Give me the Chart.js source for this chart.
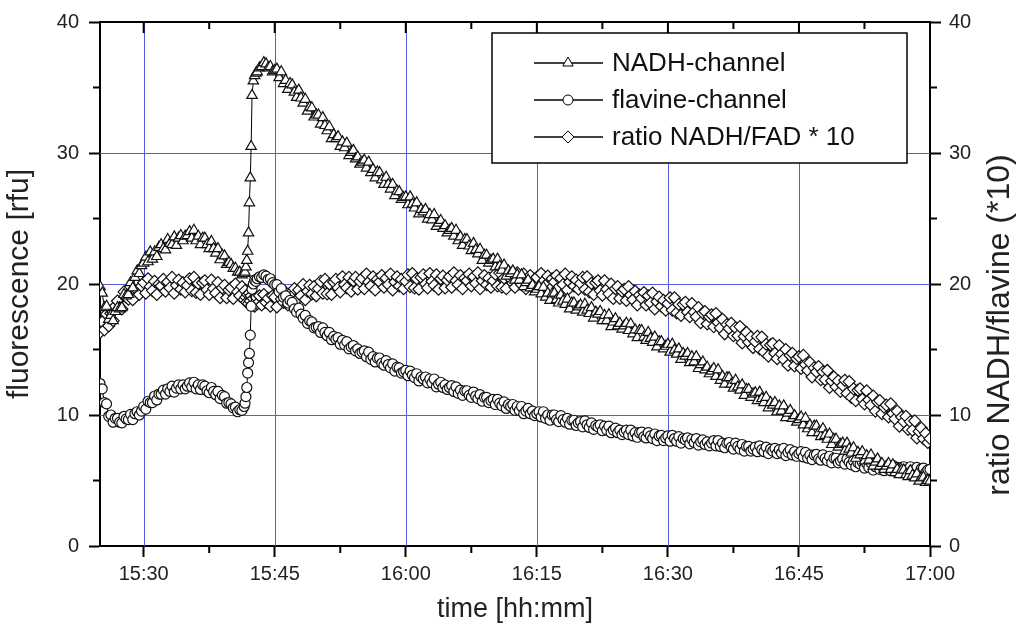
<!DOCTYPE html>
<html>
<head>
<meta charset="utf-8">
<script src="https://cdn.jsdelivr.net/npm/chart.js@4.4.1/dist/chart.umd.min.js"></script>
<style>
  html, body { margin: 0; padding: 0; background: #fff; }
  #wrap { width: 1016px; height: 628px; }
</style>
</head>
<body>
<div id="wrap"><canvas id="myChart"></canvas></div>
<script>
// time in minutes after 15:00, one row per 5 minutes
const times = [
  25, 25.25, 25.5, 25.75, 26, 26.25, 26.5, 26.75, 27, 27.25, 27.5, 27.75, 28, 28.25, 28.5, 28.75, 29, 29.25, 29.5, 29.75,
  30, 30.25, 30.5, 30.75, 31, 31.25, 31.5, 31.75, 32, 32.25, 32.5, 32.75, 33, 33.25, 33.5, 33.75, 34, 34.25, 34.5, 34.75,
  35, 35.25, 35.5, 35.75, 36, 36.25, 36.5, 36.75, 37, 37.25, 37.5, 37.75, 38, 38.25, 38.5, 38.75, 39, 39.25, 39.5, 39.75,
  40, 40.25, 40.5, 40.75, 41, 41.25, 41.5,
  41.6, 41.7, 41.8, 41.9, 42, 42.1, 42.2, 42.3, 42.4, 42.55, 42.7, 42.85,
  43, 43.25, 43.5, 43.75, 44, 44.25, 44.5, 44.75,
  45, 45.25, 45.5, 45.75, 46, 46.25, 46.5, 46.75, 47, 47.25, 47.5, 47.75, 48, 48.25, 48.5, 48.75, 49, 49.25, 49.5, 49.75,
  50, 50.25, 50.5, 50.75, 51, 51.25, 51.5, 51.75, 52, 52.25, 52.5, 52.75, 53, 53.25, 53.5, 53.75, 54, 54.25, 54.5, 54.75,
  55, 55.25, 55.5, 55.75, 56, 56.25, 56.5, 56.75, 57, 57.25, 57.5, 57.75, 58, 58.25, 58.5, 58.75, 59, 59.25, 59.5, 59.75,
  60, 60.25, 60.5, 60.75, 61, 61.25, 61.5, 61.75, 62, 62.25, 62.5, 62.75, 63, 63.25, 63.5, 63.75, 64, 64.25, 64.5, 64.75,
  65, 65.25, 65.5, 65.75, 66, 66.25, 66.5, 66.75, 67, 67.25, 67.5, 67.75, 68, 68.25, 68.5, 68.75, 69, 69.25, 69.5, 69.75,
  70, 70.25, 70.5, 70.75, 71, 71.25, 71.5, 71.75, 72, 72.25, 72.5, 72.75, 73, 73.25, 73.5, 73.75, 74, 74.25, 74.5, 74.75,
  75, 75.25, 75.5, 75.75, 76, 76.25, 76.5, 76.75, 77, 77.25, 77.5, 77.75, 78, 78.25, 78.5, 78.75, 79, 79.25, 79.5, 79.75,
  80, 80.25, 80.5, 80.75, 81, 81.25, 81.5, 81.75, 82, 82.25, 82.5, 82.75, 83, 83.25, 83.5, 83.75, 84, 84.25, 84.5, 84.75,
  85, 85.25, 85.5, 85.75, 86, 86.25, 86.5, 86.75, 87, 87.25, 87.5, 87.75, 88, 88.25, 88.5, 88.75, 89, 89.25, 89.5, 89.75,
  90, 90.25, 90.5, 90.75, 91, 91.25, 91.5, 91.75, 92, 92.25, 92.5, 92.75, 93, 93.25, 93.5, 93.75, 94, 94.25, 94.5, 94.75,
  95, 95.25, 95.5, 95.75, 96, 96.25, 96.5, 96.75, 97, 97.25, 97.5, 97.75, 98, 98.25, 98.5, 98.75, 99, 99.25, 99.5, 99.75,
  100, 100.25, 100.5, 100.75, 101, 101.25, 101.5, 101.75, 102, 102.25, 102.5, 102.75, 103, 103.25, 103.5, 103.75, 104, 104.25, 104.5, 104.75,
  105, 105.25, 105.5, 105.75, 106, 106.25, 106.5, 106.75, 107, 107.25, 107.5, 107.75, 108, 108.25, 108.5, 108.75, 109, 109.25, 109.5, 109.75,
  110, 110.25, 110.5, 110.75, 111, 111.25, 111.5, 111.75, 112, 112.25, 112.5, 112.75, 113, 113.25, 113.5, 113.75, 114, 114.25, 114.5, 114.75,
  115, 115.25, 115.5, 115.75, 116, 116.25, 116.5, 116.75, 117, 117.25, 117.5, 117.75, 118, 118.25, 118.5, 118.75, 119, 119.25, 119.5, 119.75,
  120
];

const nadh = [
  19.8, 19.3, 18.2, 18.3, 17.3, 17.6, 17.2, 17.9, 18.2, 18.1, 18.2, 19.2, 19.1, 19.2, 20.1, 19.7, 20.5, 21.0, 20.8, 21.4,
  21.6, 22.05, 21.7, 22.45, 21.9, 22.45, 22.1, 22.8, 23.0, 22.7, 22.6, 23.4, 23.1, 23.0, 23.6, 22.95, 23.5, 23.7, 23.3, 23.65,
  23.7, 24.0, 23.5, 24.1, 23.3, 23.65, 23.0, 23.5, 23.5, 23.0, 22.7, 23.25, 22.7, 22.35, 22.7, 21.85, 22.2, 22.15, 21.5, 21.65,
  21.5, 21.2, 21.2, 20.9, 20.9, 20.7, 20.8,
  20.9, 21.3, 21.8, 22.5, 23.9, 26.2, 28.1, 30.5, 34.4, 35.5, 35.9, 36.1,
  36.2, 36.5, 36.6, 36.9, 36.8, 36.5, 36.6, 36.2,
  36.3, 36.4, 35.75, 36.2, 35.3, 35.55, 34.85, 35.3, 35.2, 34.65, 34.25, 34.8, 34.2, 33.8, 34.1, 33.2, 33.5, 33.45, 32.75, 32.9,
  32.9, 32.2, 32.7, 32.1, 31.7, 32.0, 31.1, 31.4, 31.1, 31.25, 30.5, 30.85, 30.4, 30.75, 29.8, 30.05, 30.2, 29.55, 29.7, 29.15,
  29.3, 29.45, 28.85, 29.3, 28.5, 28.75, 28.1, 28.55, 28.5, 27.95, 27.6, 28.15, 27.6, 27.25, 27.6, 26.75, 27.1, 27.05, 26.45, 26.6,
  26.65, 26.05, 26.65, 26.1, 25.8, 26.2, 25.35, 25.7, 25.5, 25.7, 24.95, 25.3, 24.9, 25.3, 24.4, 24.65, 24.85, 24.25, 24.45, 23.9,
  24.1, 24.25, 23.65, 24.1, 23.3, 23.6, 22.95, 23.4, 23.4, 22.9, 22.55, 23.1, 22.6, 22.3, 22.65, 21.8, 22.2, 22.2, 21.6, 21.8,
  21.9, 21.3, 21.9, 21.35, 21.05, 21.45, 20.6, 21.0, 20.8, 21.0, 20.3, 20.7, 20.3, 20.7, 19.8, 20.1, 20.3, 19.7, 19.9, 19.4,
  19.6, 19.8, 19.25, 19.75, 19.0, 19.3, 18.75, 19.25, 19.3, 18.8, 18.55, 19.15, 18.7, 18.45, 18.85, 18.1, 18.55, 18.55, 18.0, 18.25,
  18.4, 17.85, 18.45, 18.0, 17.75, 18.2, 17.4, 17.85, 17.7, 17.9, 17.2, 17.6, 17.2, 17.65, 16.75, 17.1, 17.35, 16.8, 17.0, 16.55,
  16.8, 17.0, 16.45, 16.95, 16.2, 16.5, 15.9, 16.45, 16.45, 15.95, 15.7, 16.3, 15.85, 15.55, 15.95, 15.2, 15.6, 15.6, 15.05, 15.25,
  15.4, 14.8, 15.4, 14.95, 14.65, 15.05, 14.25, 14.7, 14.5, 14.7, 14.0, 14.45, 14.05, 14.45, 13.55, 13.85, 14.05, 13.45, 13.65, 13.15,
  13.35, 13.55, 12.95, 13.45, 12.65, 12.95, 12.35, 12.85, 12.85, 12.35, 12.05, 12.65, 12.15, 11.9, 12.3, 11.5, 11.95, 11.95, 11.35, 11.6,
  11.7, 11.1, 11.75, 11.25, 10.95, 11.35, 10.55, 10.95, 10.75, 10.95, 10.25, 10.7, 10.3, 10.7, 9.8, 10.15, 10.35, 9.75, 9.95, 9.45,
  9.65, 9.85, 9.25, 9.75, 8.95, 9.25, 8.65, 9.15, 9.15, 8.65, 8.35, 8.95, 8.45, 8.15, 8.55, 7.75, 8.15, 8.15, 7.55, 7.75,
  7.85, 7.25, 7.85, 7.4, 7.1, 7.5, 6.7, 7.15, 6.95, 7.2, 6.5, 6.9, 6.55, 6.95, 6.1, 6.4, 6.65, 6.1, 6.3, 5.85,
  6.1, 6.3, 5.85, 6.2, 5.6, 5.85, 5.45, 5.8, 5.8, 5.45, 5.3, 5.75, 5.4, 5.2, 5.5, 4.95, 5.2, 5.25, 4.85, 5.0,
  4.95
];

const flavine = [
  12.4, 12.0, 10.95, 10.85, 9.9, 10.0, 9.45, 9.75, 9.75, 9.45, 9.4, 9.9, 9.7, 9.65, 10.05, 9.65, 10.1, 10.25, 10.0, 10.3,
  10.65, 10.45, 11.05, 10.95, 10.95, 11.45, 11.15, 11.6, 11.6, 11.9, 11.6, 12.0, 11.8, 12.2, 11.75, 12.05, 12.3, 12.0, 12.3, 12.0,
  12.2, 12.45, 12.15, 12.5, 12.0, 12.3, 11.95, 12.3, 12.2, 11.85, 11.7, 12.1, 11.8, 11.55, 11.8, 11.25, 11.5, 11.4, 10.9, 10.95,
  10.85, 10.55, 10.6, 10.25, 10.4, 10.35, 10.65,
  10.9, 11.4, 12.1, 13.2, 14.0, 14.7, 16.1, 18.3, 19.6, 20.0, 20.3, 20.2,
  20.4, 20.55, 20.5, 20.7, 20.6, 20.35, 20.4, 20.1,
  19.95, 19.95, 19.4, 19.65, 19.0, 19.1, 18.55, 18.75, 18.6, 18.1, 17.85, 18.15, 17.7, 17.4, 17.6, 17.0, 17.2, 17.1, 16.65, 16.7,
  16.75, 16.3, 16.65, 16.3, 16.05, 16.3, 15.75, 16.0, 15.8, 15.9, 15.4, 15.7, 15.35, 15.6, 15.05, 15.2, 15.3, 14.9, 15.05, 14.7,
  14.8, 14.9, 14.45, 14.8, 14.25, 14.45, 14.05, 14.35, 14.35, 13.95, 13.8, 14.15, 13.85, 13.6, 13.9, 13.35, 13.65, 13.6, 13.2, 13.3,
  13.4, 13.0, 13.35, 13.05, 12.85, 13.15, 12.6, 12.9, 12.75, 12.9, 12.45, 12.75, 12.45, 12.75, 12.15, 12.35, 12.5, 12.1, 12.3, 11.95,
  12.1, 12.25, 11.8, 12.15, 11.65, 11.9, 11.5, 11.85, 11.85, 11.5, 11.35, 11.75, 11.45, 11.25, 11.55, 11.05, 11.35, 11.35, 10.95, 11.1,
  11.2, 10.8, 11.2, 10.9, 10.7, 11.0, 10.5, 10.8, 10.65, 10.8, 10.35, 10.65, 10.35, 10.65, 10.1, 10.3, 10.5, 10.1, 10.3, 9.95,
  10.1, 10.25, 9.85, 10.25, 9.75, 10.0, 9.6, 10.0, 10.0, 9.65, 9.5, 9.95, 9.65, 9.45, 9.75, 9.3, 9.6, 9.6, 9.2, 9.4,
  9.5, 9.1, 9.55, 9.25, 9.05, 9.4, 8.9, 9.2, 9.1, 9.25, 8.8, 9.15, 8.85, 9.15, 8.65, 8.85, 9.0, 8.65, 8.85, 8.5,
  8.7, 8.85, 8.5, 8.85, 8.4, 8.65, 8.3, 8.65, 8.7, 8.35, 8.25, 8.65, 8.4, 8.2, 8.55, 8.05, 8.4, 8.45, 8.05, 8.25,
  8.4, 8.0, 8.45, 8.2, 8.0, 8.35, 7.85, 8.2, 8.1, 8.25, 7.8, 8.15, 7.9, 8.2, 7.7, 7.95, 8.1, 7.75, 7.95, 7.65,
  7.85, 8.05, 7.65, 8.05, 7.6, 7.85, 7.5, 7.85, 7.9, 7.55, 7.4, 7.85, 7.6, 7.4, 7.75, 7.25, 7.6, 7.6, 7.25, 7.4,
  7.55, 7.2, 7.65, 7.35, 7.2, 7.55, 7.05, 7.4, 7.25, 7.45, 7.05, 7.35, 7.1, 7.45, 6.9, 7.15, 7.35, 6.95, 7.2, 6.85,
  7.05, 7.2, 6.8, 7.15, 6.7, 6.95, 6.6, 6.95, 7.0, 6.65, 6.55, 6.95, 6.7, 6.5, 6.85, 6.35, 6.7, 6.7, 6.35, 6.5,
  6.65, 6.25, 6.65, 6.4, 6.2, 6.5, 6.05, 6.35, 6.25, 6.4, 5.95, 6.3, 6.0, 6.35, 5.8, 6.05, 6.2, 5.85, 6.1, 5.75,
  5.95, 6.15, 5.75, 6.15, 5.7, 6.0, 5.6, 6.0, 6.05, 5.75, 5.6, 6.05, 5.8, 5.65, 6.0, 5.55, 5.9, 5.95, 5.6, 5.8,
  5.85
];

const ratio = [
  16.3, 17.1, 16.5, 17.7, 16.8, 17.75, 17.2, 18.3, 18.7, 18.2, 18.1, 19.4, 19.0, 18.85, 19.8, 18.8, 19.7, 20.0, 19.2, 19.85,
  20.1, 19.3, 20.4, 19.8, 19.5, 20.2, 19.2, 20.0, 19.85, 20.35, 19.45, 20.15, 19.7, 20.5, 19.3, 19.9, 20.3, 19.6, 20.1, 19.4,
  19.9, 20.4, 19.5, 20.5, 19.35, 20.05, 19.2, 20.1, 20.25, 19.55, 19.2, 20.3, 19.65, 19.3, 20.1, 18.95, 19.7, 19.9, 18.95, 19.55,
  19.7, 18.9, 20.0, 19.4, 19.1, 19.8, 18.8,
  19.5, 19.0, 18.6, 19.2, 18.5, 19.3, 18.7, 19.1, 18.4, 18.9, 18.3, 19.0,
  18.5, 19.1, 18.4, 19.2, 18.6, 18.9, 18.3, 19.1,
  19.0, 18.25, 19.4, 18.85, 18.6, 19.35, 18.4, 19.25, 19.1, 19.65, 18.8, 19.55, 19.1, 19.95, 18.8, 19.45, 19.9, 19.25, 19.8, 19.1,
  19.65, 20.2, 19.3, 20.35, 19.25, 20.0, 19.2, 20.15, 20.35, 19.7, 19.4, 20.55, 19.95, 19.7, 20.5, 19.45, 20.25, 20.5, 19.6, 20.2,
  20.45, 19.65, 20.75, 20.15, 19.85, 20.55, 19.55, 20.35, 20.15, 20.65, 19.75, 20.45, 19.95, 20.75, 19.55, 20.15, 20.55, 19.85, 20.35, 19.65,
  20.2, 20.7, 19.8, 20.8, 19.7, 20.4, 19.6, 20.5, 20.7, 20.0, 19.7, 20.8, 20.2, 19.9, 20.7, 19.6, 20.4, 20.6, 19.7, 20.3,
  20.55, 19.75, 20.85, 20.25, 19.95, 20.65, 19.65, 20.45, 20.25, 20.75, 19.85, 20.55, 20.05, 20.85, 19.65, 20.25, 20.65, 19.95, 20.45, 19.75,
  20.25, 20.75, 19.85, 20.85, 19.75, 20.45, 19.65, 20.55, 20.75, 20.05, 19.75, 20.85, 20.25, 19.95, 20.75, 19.65, 20.45, 20.65, 19.75, 20.35,
  20.5, 19.7, 20.8, 20.2, 19.9, 20.6, 19.6, 20.4, 20.15, 20.65, 19.75, 20.45, 19.95, 20.75, 19.55, 20.15, 20.55, 19.85, 20.3, 19.6,
  20.05, 20.5, 19.6, 20.55, 19.4, 20.05, 19.2, 20.1, 20.25, 19.5, 19.15, 20.25, 19.6, 19.25, 20.0, 18.9, 19.65, 19.8, 18.9, 19.45,
  19.6, 18.75, 19.8, 19.15, 18.8, 19.45, 18.4, 19.15, 18.9, 19.35, 18.4, 19.1, 18.55, 19.3, 18.1, 18.65, 19.0, 18.3, 18.75, 18.0,
  18.5, 18.95, 18.0, 18.95, 17.8, 18.45, 17.6, 18.45, 18.6, 17.85, 17.5, 18.5, 17.85, 17.5, 18.2, 17.05, 17.8, 17.9, 16.95, 17.5,
  17.65, 16.75, 17.75, 17.05, 16.65, 17.3, 16.2, 16.9, 16.6, 17.0, 16.05, 16.65, 16.05, 16.75, 15.5, 16.0, 16.3, 15.55, 15.95, 15.15,
  15.6, 16.0, 15.05, 15.95, 14.8, 15.4, 14.5, 15.35, 15.45, 14.7, 14.3, 15.3, 14.65, 14.25, 15.0, 13.8, 14.55, 14.7, 13.75, 14.3,
  14.45, 13.55, 14.55, 13.85, 13.4, 14.0, 12.9, 13.6, 13.3, 13.7, 12.7, 13.3, 12.7, 13.4, 12.1, 12.6, 12.9, 12.15, 12.6, 11.8,
  12.25, 12.65, 11.65, 12.55, 11.35, 12.0, 11.1, 11.9, 12.0, 11.2, 10.85, 11.85, 11.15, 10.75, 11.45, 10.3, 11.0, 11.1, 10.1, 10.6,
  10.75, 9.85, 10.85, 10.1, 9.7, 10.3, 9.15, 9.85, 9.5, 9.9, 8.9, 9.5, 8.85, 9.55, 8.25, 8.75, 9.0, 8.2, 8.6, 7.9,
  8.2
];

const seriesNames = ['NADH-channel', 'flavine-channel', 'ratio NADH/FAD * 10'];
const xMajor = [30, 45, 60, 75, 90, 105, 120];
const xMinor = [37.5, 52.5, 67.5, 82.5, 97.5, 112.5];
const yMajor = [0, 10, 20, 30, 40];
const yMinor = [5, 15, 25, 35];

const FONT = 'Arial, "Liberation Sans", Helvetica, sans-serif';
const GRID_BLUE = '#5a5ae0';

function toPoints(values) {
    return values.map((v, i) => ({ x: times[i], y: v }));
}

function fmtTime(m) {
    const h = 15 + Math.floor(m / 60);
    const mm = m % 60;
    return h + ':' + (mm < 10 ? '0' : '') + mm;
}

function drawMarker(ctx, style, x, y, r) {
    ctx.beginPath();
    if (style === 'triangle') {
        ctx.moveTo(x, y - r);
        ctx.lineTo(x + r * 0.866, y + r * 0.5);
        ctx.lineTo(x - r * 0.866, y + r * 0.5);
        ctx.closePath();
    } else if (style === 'rectRot') {
        ctx.moveTo(x, y - r);
        ctx.lineTo(x + r, y);
        ctx.lineTo(x, y + r);
        ctx.lineTo(x - r, y);
        ctx.closePath();
    } else {
        ctx.arc(x, y, r, 0, Math.PI * 2);
    }
    ctx.fill();
    ctx.stroke();
}

// blue grid, drawn crisp under the data
const blueGrid = {
    id: 'blueGrid',
    beforeDatasetsDraw(chart) {
        const ctx = chart.ctx;
        const area = chart.chartArea;
        const xs = chart.scales.x;
        const ys = chart.scales.y;
        ctx.save();
        ctx.strokeStyle = GRID_BLUE;
        ctx.lineWidth = 1;
        ctx.beginPath();
        xMajor.filter(v => v < 120).forEach(v => {
            const px = Math.round(xs.getPixelForValue(v)) + 0.5;
            ctx.moveTo(px, area.top);
            ctx.lineTo(px, area.bottom);
        });
        yMajor.filter(v => v > 0 && v < 40).forEach(v => {
            const py = Math.round(ys.getPixelForValue(v)) + 0.5;
            ctx.moveTo(area.left, py);
            ctx.lineTo(area.right, py);
        });
        ctx.stroke();
        ctx.restore();
    }
};

const frameAndLegend = {
    id: 'frameAndLegend',
    afterDraw(chart) {
        const ctx = chart.ctx;
        const area = chart.chartArea;
        const xs = chart.scales.x;
        const ys = chart.scales.y;
        ctx.save();

        // top frame line and the extra tick marks
        ctx.strokeStyle = '#000';
        ctx.lineWidth = 2;
        ctx.beginPath();
        ctx.moveTo(area.left - 1, area.top);
        ctx.lineTo(area.right + 1, area.top);
        xMajor.forEach(v => {
            const px = xs.getPixelForValue(v);
            ctx.moveTo(px, area.top);
            ctx.lineTo(px, area.top + 11);
        });
        xMinor.forEach(v => {
            const px = xs.getPixelForValue(v);
            ctx.moveTo(px, area.top);
            ctx.lineTo(px, area.top + 7);
            ctx.moveTo(px, area.bottom);
            ctx.lineTo(px, area.bottom + 7);
        });
        yMinor.forEach(v => {
            const py = ys.getPixelForValue(v);
            ctx.moveTo(area.left - 7, py);
            ctx.lineTo(area.left, py);
            ctx.moveTo(area.right, py);
            ctx.lineTo(area.right + 7, py);
        });
        ctx.stroke();

        // right axis title, reading bottom to top
        ctx.fillStyle = '#222';
        ctx.font = '32px ' + FONT;
        ctx.textAlign = 'center';
        ctx.textBaseline = 'middle';
        ctx.translate(1000, 325);
        ctx.rotate(-Math.PI / 2);
        ctx.fillText('ratio NADH/flavine (*10)', 0, 0);
        ctx.setTransform(1, 0, 0, 1, 0, 0);

        // legend box
        const bx = 492, by = 33, bw = 415, bh = 130;
        ctx.fillStyle = '#fff';
        ctx.fillRect(bx, by, bw, bh);
        ctx.lineWidth = 1.5;
        ctx.strokeStyle = '#000';
        ctx.strokeRect(bx, by, bw, bh);
        const rows = [63, 100, 137];
        chart.data.datasets.forEach((ds, i) => {
            const y = rows[i];
            ctx.lineWidth = 1.5;
            ctx.strokeStyle = '#000';
            ctx.beginPath();
            ctx.moveTo(534, y);
            ctx.lineTo(603, y);
            ctx.stroke();
            ctx.fillStyle = '#fff';
            ctx.lineWidth = 1;
            drawMarker(ctx, ds.pointStyle, 568, y, ds.pointStyle === 'circle' ? 5 : 6);
            ctx.fillStyle = '#111';
            ctx.font = '26px ' + FONT;
            ctx.textAlign = 'left';
            ctx.textBaseline = 'middle';
            ctx.fillText(ds.label, 612, y + 1);
        });
        ctx.restore();
    }
};

function makeDataset(label, values, style, radius, axis) {
    return {
        label: label,
        data: toPoints(values),
        yAxisID: axis,
        borderColor: '#000',
        borderWidth: 1,
        backgroundColor: '#fff',
        pointStyle: style,
        pointRadius: radius,
        pointBorderColor: '#111',
        pointBackgroundColor: '#fff',
        pointBorderWidth: 1.2,
        tension: 0
    };
}

if (nadh.length !== times.length || flavine.length !== times.length || ratio.length !== times.length) {
    console.error('length mismatch', times.length, nadh.length, flavine.length, ratio.length);
}

const ctx = document.getElementById('myChart').getContext('2d');
const myChart = new Chart(ctx, {
    type: 'line',
    data: {
        datasets: [
            makeDataset(seriesNames[0], nadh, 'triangle', 6, 'y'),
            makeDataset(seriesNames[1], flavine, 'circle', 5, 'y'),
            makeDataset(seriesNames[2], ratio, 'rectRot', 6, 'y1')
        ]
    },
    options: {
        responsive: true,
        maintainAspectRatio: false,
        animation: false,
        layout: { padding: { top: 22, left: 0, right: 0, bottom: 0 } },
        plugins: {
            legend: { display: false },
            tooltip: { enabled: false }
        },
        scales: {
            x: {
                type: 'linear',
                min: 25,
                max: 120,
                afterBuildTicks: scale => { scale.ticks = xMajor.map(v => ({ value: v })); },
                afterFit: scale => { scale.height = 82; },
                ticks: {
                    autoSkip: false,
                    maxRotation: 0,
                    padding: 5,
                    color: '#222',
                    font: { family: FONT, size: 20 },
                    callback: v => fmtTime(v)
                },
                grid: {
                    drawOnChartArea: false,
                    tickColor: '#000',
                    tickLength: 11,
                    tickWidth: 2
                },
                border: { color: '#000', width: 2 },
                title: {
                    display: true,
                    text: 'time [hh:mm]',
                    color: '#222',
                    font: { family: FONT, size: 27 },
                    padding: { top: 0, bottom: 2 }
                }
            },
            y: {
                position: 'left',
                min: 0,
                max: 40,
                afterBuildTicks: scale => { scale.ticks = yMajor.map(v => ({ value: v })); },
                afterFit: scale => { scale.width = 100; },
                ticks: {
                    padding: 10,
                    color: '#222',
                    font: { family: FONT, size: 20 }
                },
                grid: {
                    drawOnChartArea: false,
                    tickColor: '#000',
                    tickLength: 11,
                    tickWidth: 2
                },
                border: { color: '#000', width: 2 },
                title: {
                    display: true,
                    text: 'fluorescence [rfu]',
                    color: '#222',
                    font: { family: FONT, size: 30 },
                    padding: { top: 2, bottom: 0 }
                }
            },
            y1: {
                position: 'right',
                min: 0,
                max: 40,
                afterBuildTicks: scale => { scale.ticks = yMajor.map(v => ({ value: v })); },
                afterFit: scale => { scale.width = 86; },
                ticks: {
                    padding: 8,
                    color: '#222',
                    font: { family: FONT, size: 20 }
                },
                grid: {
                    drawOnChartArea: false,
                    tickColor: '#000',
                    tickLength: 11,
                    tickWidth: 2
                },
                border: { color: '#000', width: 2 }
            }
        }
    },
    plugins: [blueGrid, frameAndLegend]
});
</script>
</body>
</html>
